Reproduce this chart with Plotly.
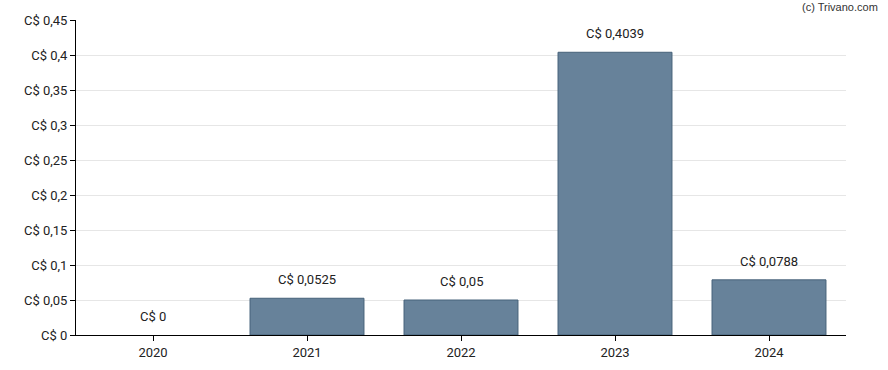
import plotly.graph_objects as go

years = ["2020", "2021", "2022", "2023", "2024"]
values = [0, 0.0525, 0.05, 0.4039, 0.0788]
labels = ["C$ 0", "C$ 0,0525", "C$ 0,05", "C$ 0,4039", "C$ 0,0788"]
tick_vals = [0, 0.05, 0.1, 0.15, 0.2, 0.25, 0.3, 0.35, 0.4, 0.45]
tick_text = ["C$ 0", "C$ 0,05", "C$ 0,1", "C$ 0,15", "C$ 0,2", "C$ 0,25", "C$ 0,3", "C$ 0,35", "C$ 0,4", "C$ 0,45"]

fig = go.Figure()
fig.add_trace(go.Bar(
    x=years, y=values,
    marker=dict(color="#67829a",
                line=dict(color="#46627a", width=[0 if v == 0 else 1 for v in values])),
    hoverinfo="skip",
))
for i, (v, t) in enumerate(zip(values, labels)):
    fig.add_annotation(x=i, y=v, text=t, showarrow=False, yanchor="bottom", yshift=9,
                       font=dict(family="Roboto, Arial, sans-serif", size=13, color="#222"))
fig.add_annotation(xref="paper", yref="paper", x=1.044, y=1.041, xanchor="right", yanchor="middle",
                   text="(c) Trivano.com", showarrow=False,
                   font=dict(family="Arial, Liberation Sans, sans-serif", size=11, color="#333"))

fig.update_layout(
    width=888, height=370,
    margin=dict(l=76, r=42, t=20, b=35, autoexpand=False),
    paper_bgcolor="white", plot_bgcolor="white",
    bargap=0.26,
    showlegend=False,
    font=dict(family="Roboto, Arial, sans-serif", size=13, color="#222"),
)
fig.update_xaxes(type="category", showline=True, linecolor="black", linewidth=1, ticks="outside", ticklen=5,
                 tickcolor="black", showgrid=False, automargin=False)
fig.update_yaxes(range=[0, 0.45], tickvals=tick_vals, ticktext=tick_text, showline=True,
                 linecolor="black", linewidth=1, ticks="outside", ticklen=5, tickcolor="black",
                 showgrid=True, gridcolor="#e6e6e6", zeroline=False, automargin=False)

fig.write_html("out.html", config={"displayModeBar": False},
               post_script="document.body.style.margin='0';")
